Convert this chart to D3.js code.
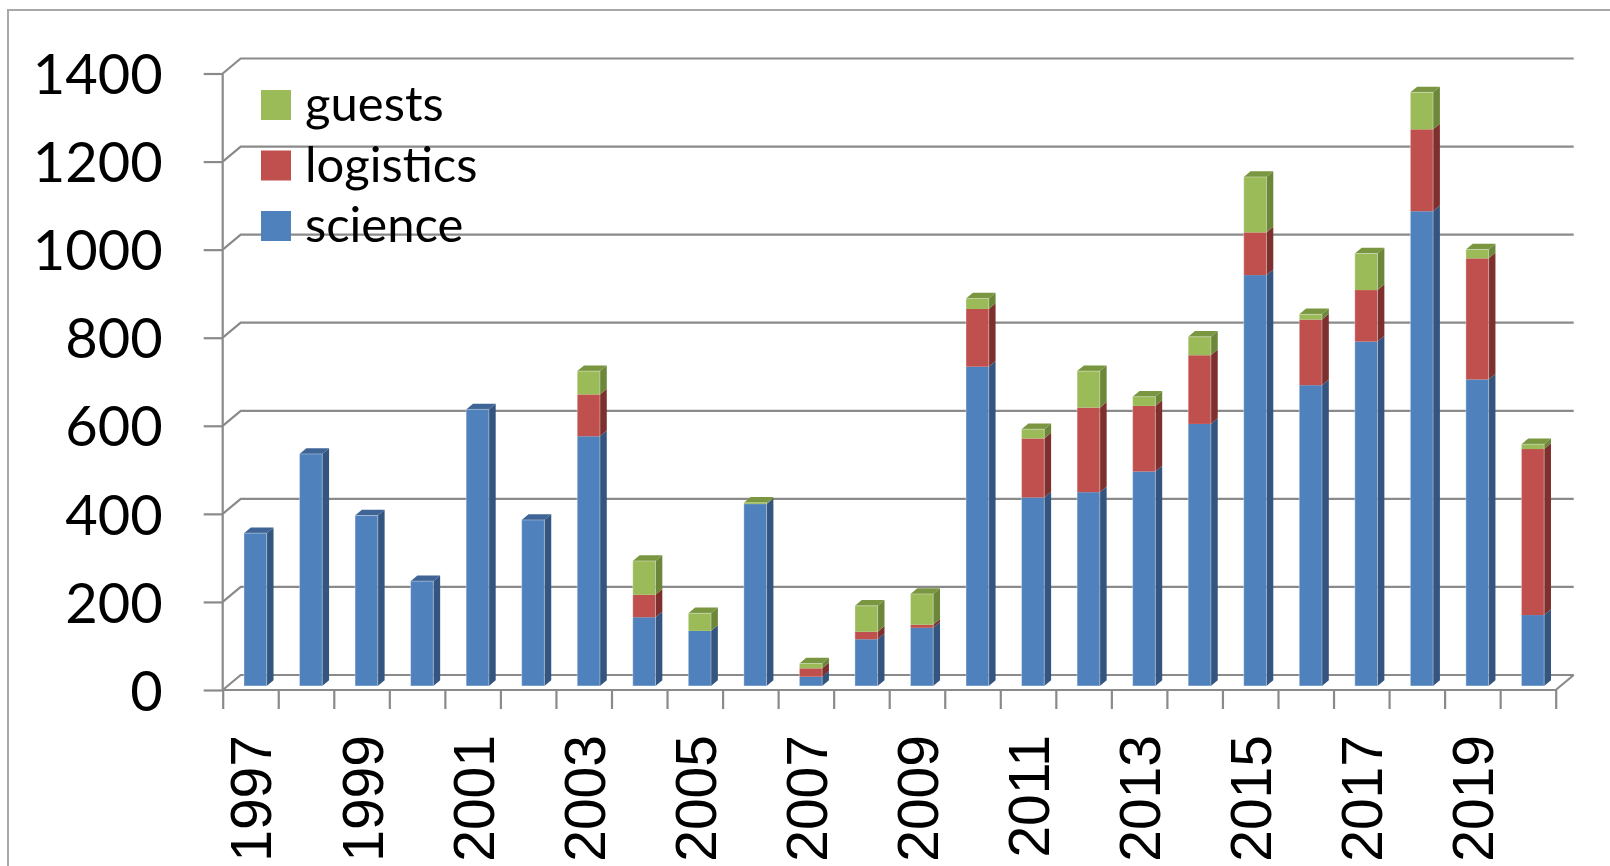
<!DOCTYPE html>
<html>
<head>
<meta charset="utf-8">
<script src="https://cdn.jsdelivr.net/npm/d3@7"></script>
<style>
  html, body { margin: 0; padding: 0; background: #fff; }
  svg { display: block; }
</style>
</head>
<body>
<svg id="chart" width="1610" height="866"></svg>
<script>
// Participants per season, stacked by group
const years = d3.range(1997, 2021).map(String);
const science   = [347, 527, 387, 238, 628, 377, 567, 156, 125, 413, 21, 106, 132, 725, 428, 440, 487, 595, 933, 683, 782, 1078, 696, 161];
const logistics = [0, 0, 0, 0, 0, 0, 95, 51, 0, 0, 19, 17, 7, 131, 134, 192, 149, 156, 97, 149, 117, 186, 275, 377];
const guests    = [0, 0, 0, 0, 0, 0, 53, 77, 40, 3, 11, 59, 70, 24, 21, 83, 21, 42, 126, 12, 83, 84, 20, 11];
const seriesKeys = ["science", "logistics", "guests"];
const yTicks = [0, 200, 400, 600, 800, 1000, 1200, 1400];
const yearLabels = years.filter((d, i) => i % 2 === 0);

const colors = {
  science:   { front: "#4F81BD", side: "#34557F", top: "#3E6596" },
  logistics: { front: "#C0504D", side: "#7E302E", top: "#9A3D3B" },
  guests:    { front: "#9BBB59", side: "#6C863A", top: "#7A9640" }
};

const rows = years.map((y, i) => ({ year: y, science: science[i], logistics: logistics[i], guests: guests[i] }));
const stacked = d3.stack().keys(seriesKeys)(rows);

const svg = d3.select("#chart");

// plot geometry (front plane of the 3-D box)
const x0 = 222.7, x1 = 1555.7;
const depth = { dx: 18, dy: -15 };          // wall depth
const tf = 0.27, tb = 0.65;                 // bar front / back depth fractions

const y = d3.scaleLinear().domain([0, 1400]).range([690, 73.5]);
const xCat = d3.scaleBand().domain(years).range([x0, x1]);
const xBar = d3.scaleBand().domain(years).range([x0, x1]).paddingInner(0.591).paddingOuter(0.2955);
const xEdge = d3.scaleLinear().domain([0, years.length]).range([x0, x1]);

const P = (px, v, t) => [px + depth.dx * t, y(v) + depth.dy * t];
const gridColor = "#8A8A8A";

// outer frame
svg.append("rect")
  .attr("x", 8).attr("y", 10).attr("width", 1700).attr("height", 1000)
  .attr("fill", "none").attr("stroke", "#A8A8A8").attr("stroke-width", 2);

// back wall gridlines and left wall diagonals
const walls = svg.append("g").attr("stroke", gridColor).attr("stroke-width", 2.2).attr("fill", "none");
yTicks.forEach(v => {
  const a = P(x0, v, 0), b = P(x0, v, 1), c = P(x1, v, 1);
  walls.append("path").attr("d", `M${a[0]},${a[1]}L${b[0]},${b[1]}L${c[0]},${c[1]}`);
});
// floor: front edge and right diagonal
{
  const a = P(x0, 0, 0), b = P(x1, 0, 0), c = P(x1, 0, 1);
  walls.append("path").attr("d", `M${a[0]},${a[1]}L${b[0]},${b[1]}L${c[0]},${c[1]}`);
}

// bars
const barsG = svg.append("g");
years.forEach((yr, i) => {
  const xl = xBar(yr), xr = xl + xBar.bandwidth();
  let topKey = null;
  stacked.forEach(s => { if (s[i][1] - s[i][0] > 0) topKey = s.key; });
  stacked.forEach(s => {
    const v0 = s[i][0], v1 = s[i][1];
    if (v1 - v0 <= 0) return;
    const c = colors[s.key];
    const fl1 = P(xl, v1, tf), fr0 = P(xr, v0, tf), fr1 = P(xr, v1, tf);
    const br1 = P(xr, v1, tb), br0 = P(xr, v0, tb), bl1 = P(xl, v1, tb);
    // front face
    barsG.append("rect")
      .attr("x", fl1[0]).attr("y", fl1[1])
      .attr("width", fr0[0] - fl1[0]).attr("height", fr0[1] - fl1[1])
      .attr("fill", c.front);
    // side face
    barsG.append("path")
      .attr("d", `M${fr1}L${br1}L${br0}L${fr0}Z`)
      .attr("fill", c.side);
    // top face
    if (s.key === topKey) {
      barsG.append("path")
        .attr("d", `M${fl1}L${fr1}L${br1}L${bl1}Z`)
        .attr("fill", c.top);
    }
  });
  // light edge around the whole front face
  const tot = d3.sum(seriesKeys, k => rows[i][k]);
  const a = P(xl, tot, tf), b = P(xr, 0, tf);
  barsG.append("rect")
    .attr("x", a[0]).attr("y", a[1]).attr("width", b[0] - a[0]).attr("height", b[1] - a[1])
    .attr("fill", "none").attr("stroke", "rgba(255,255,255,0.35)").attr("stroke-width", 1);
});

// y axis
const yAxis = svg.append("g")
  .attr("transform", `translate(${x0},0)`)
  .call(d3.axisLeft(y).tickValues(yTicks).tickSize(19).tickPadding(41).tickFormat(d3.format("d")));
yAxis.select(".domain").attr("stroke", gridColor).attr("stroke-width", 2.2).attr("d", `M0,${y(0)}V${y(1400)}`);
yAxis.selectAll(".tick line").attr("stroke", gridColor).attr("stroke-width", 2.2);
yAxis.selectAll(".tick text")
  .attr("fill", "#000")
  .attr("font-family", "Lato, 'Open Sans', sans-serif")
  .attr("font-size", 56)
  .attr("dy", "0.36em");

// x axis tick marks at category edges
const xTicks = svg.append("g")
  .attr("transform", `translate(0,${y(0)})`)
  .call(d3.axisBottom(xEdge).tickValues(d3.range(0, years.length + 1)).tickSize(19).tickFormat(""));
xTicks.select(".domain").remove();
xTicks.selectAll(".tick line").attr("stroke", gridColor).attr("stroke-width", 2.2);

// x axis year labels
const xLabels = svg.append("g")
  .attr("transform", `translate(0,${y(0)})`)
  .call(d3.axisBottom(xCat).tickValues(yearLabels).tickSize(0));
xLabels.select(".domain").remove();
xLabels.selectAll(".tick text")
  .attr("fill", "#000")
  .attr("font-family", "'Liberation Sans', Arial, sans-serif")
  .attr("font-size", 57)
  .attr("text-anchor", "end")
  .attr("transform", "rotate(-90)")
  .attr("x", -45)
  .attr("y", 21)
  .attr("dy", 0);

// legend
const legendKeys = ["guests", "logistics", "science"];
const legend = svg.append("g");
legendKeys.forEach((k, i) => {
  const gy = 90 + i * 60.5;
  legend.append("rect").attr("x", 261).attr("y", gy).attr("width", 30).attr("height", 30).attr("fill", colors[k].front);
  legend.append("text").attr("x", 305).attr("y", gy + 31)
    .attr("font-family", "Lato, 'Open Sans', sans-serif").attr("font-size", 49)
    .attr("fill", "#000").text(k);
});
</script>
</body>
</html>
